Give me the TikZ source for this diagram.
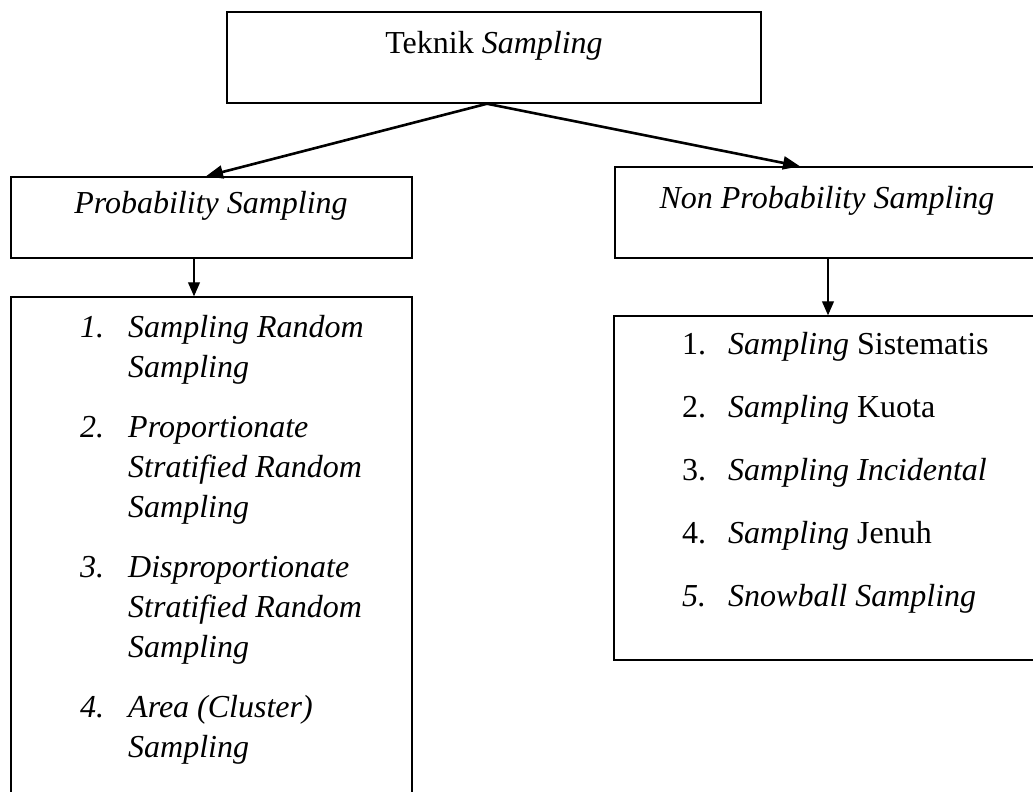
\documentclass[tikz,border=0pt]{standalone}
\usepackage{fontspec}
\setmainfont{Liberation Serif}
\usetikzlibrary{arrows.meta}
\begin{document}
\begin{tikzpicture}[x=1pt,y=-1pt,
  box/.style={draw,line width=1.5pt,inner sep=0pt,rectangle},
  txt/.style={inner sep=0pt,font=\fontsize{32}{40}\selectfont},
  bigarrow/.style={line width=2.6pt,-{Triangle[length=17pt,width=13pt]}},
  smallarrow/.style={line width=1.1pt,-{Triangle[length=14pt,width=12pt]}}]
\useasboundingbox (0,0) rectangle (1033,792);
\clip (0,0) rectangle (1033,792);
% boxes
\node[box,minimum width=534pt,minimum height=91pt] (top) at (494,57.5) {};
\node[box,minimum width=401pt,minimum height=81pt] (prob) at (211.5,217.5) {};
\node[box,minimum width=430pt,minimum height=91pt] (nonprob) at (830,212.5) {};
\node[box,minimum width=401pt,minimum height=503pt] (problist) at (211.5,548.5) {};
\node[box,minimum width=431pt,minimum height=344pt] (nonlist) at (829.5,488) {};
% titles
\node[txt,anchor=base] (ttop) at (494,53) {Teknik \textit{Sampling}};
\node[txt,anchor=base] (tprob) at (211,213) {\textit{Probability Sampling}};
\node[txt,anchor=base] (tnon) at (827,208) {\textit{Non Probability Sampling}};
% left list
\begin{scope}[every node/.style={txt,anchor=base west}]
\node (l1n) at (80,337) {\textit{1.}};
\node (l1a) at (128,337) {\textit{Sampling Random}};
\node (l1b) at (128,377) {\textit{Sampling}};
\node (l2n) at (80,437) {\textit{2.}};
\node (l2a) at (128,437) {\textit{Proportionate}};
\node (l2b) at (128,477) {\textit{Stratified Random}};
\node (l2c) at (128,517) {\textit{Sampling}};
\node (l3n) at (80,577) {\textit{3.}};
\node (l3a) at (128,577) {\textit{Disproportionate}};
\node (l3b) at (128,617) {\textit{Stratified Random}};
\node (l3c) at (128,657) {\textit{Sampling}};
\node (l4n) at (80,717) {\textit{4.}};
\node (l4a) at (128,717) {\textit{Area (Cluster)}};
\node (l4b) at (128,757) {\textit{Sampling}};
% right list
\node (r1n) at (682,354) {1.};
\node (r1a) at (728,354) {\textit{Sampling} Sistematis};
\node (r2n) at (682,417) {2.};
\node (r2a) at (728,417) {\textit{Sampling} Kuota};
\node (r3n) at (682,480) {3.};
\node (r3a) at (728,480) {\textit{Sampling Incidental}};
\node (r4n) at (682,543) {4.};
\node (r4a) at (728,543) {\textit{Sampling} Jenuh};
\node (r5n) at (682,606) {\textit{5.}};
\node (r5a) at (728,606) {\textit{Snowball Sampling}};
\end{scope}
% connectors
\draw[bigarrow] ([xshift=-7pt]top.south) -- ([xshift=-5.5pt]prob.north);
\draw[bigarrow] ([xshift=-7pt]top.south) -- ([xshift=-30pt]nonprob.north);
\draw[smallarrow] ([xshift=-17.5pt]prob.south) -- ([xshift=-17.5pt]problist.north);
\draw[smallarrow] ([xshift=-2pt]nonprob.south) -- ([xshift=-1.5pt]nonlist.north);
\end{tikzpicture}
\end{document}
